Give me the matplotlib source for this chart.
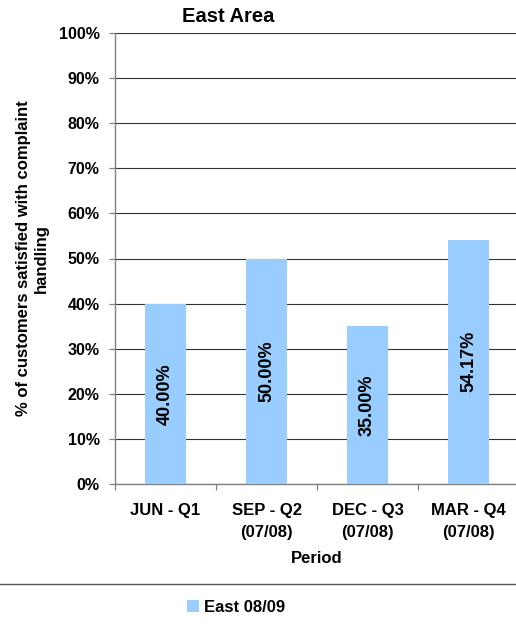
import matplotlib
matplotlib.use("Agg")
import matplotlib.pyplot as plt
from matplotlib.ticker import PercentFormatter, FixedLocator
from matplotlib.patches import Patch
from matplotlib.lines import Line2D

plt.rcParams['font.family'] = ['Liberation Sans', 'DejaVu Sans']
plt.rcParams['font.weight'] = 'bold'

categories = ["JUN - Q1", "SEP - Q2\n(07/08)", "DEC - Q3\n(07/08)", "MAR - Q4\n(07/08)"]
values = [40.00, 50.00, 35.00, 54.17]
series_name = "East 08/09"
yticks = [0, 10, 20, 30, 40, 50, 60, 70, 80, 90, 100]

bar_color = "#99CCFF"

W, H = 516, 627
fig = plt.figure(figsize=(W / 100, H / 100), dpi=100)
ax = fig.add_axes([115 / W, 1 - 484 / H, 404 / W, 451 / H])

x = list(range(len(categories)))
bars = ax.bar(x, values, width=0.415, color=bar_color, zorder=3)

for rect, v in zip(bars, values):
    ax.text(rect.get_x() + rect.get_width() / 2, v / 2, f"{v:.2f}%",
            rotation=90, ha="center", va="center", fontsize=13,
            fontweight="bold", color="black", zorder=4)

ax.set_xlim(-0.5, len(categories) - 0.5)
ax.set_ylim(0, 100)
ax.set_yticks(yticks)
ax.yaxis.set_major_formatter(PercentFormatter(decimals=0))
ax.set_xticks(x)
ax.set_xticklabels(categories, fontsize=12, fontweight="bold", linespacing=1.55)
ax.xaxis.set_minor_locator(FixedLocator([i - 0.5 for i in range(len(categories) + 1)]))
ax.tick_params(axis="x", which="major", length=0, pad=14)
ax.tick_params(axis="x", which="minor", length=4, width=0.9, color="#808080", direction="out")
ax.tick_params(axis="y", length=4, width=0.9, color="#808080", labelsize=11.5, pad=7)
for lbl in ax.get_yticklabels():
    lbl.set_fontweight("bold")

ax.grid(axis="y", color="#333333", linewidth=0.8, zorder=1)
ax.set_axisbelow(True)
for s in ("top", "right"):
    ax.spines[s].set_visible(False)
ax.spines["left"].set_color("#808080")
ax.spines["bottom"].set_color("#808080")
ax.spines["left"].set_linewidth(1.0)
ax.spines["bottom"].set_linewidth(1.0)

ax.set_xlabel("Period", fontsize=12, fontweight="bold", labelpad=8)
ax.set_ylabel("% of customers satisfied with complaint\nhandling", fontsize=12,
              fontweight="bold", labelpad=7, linespacing=1.3)

fig.text(228 / W, 1 - 17 / H, "East Area", ha="center", va="center",
         fontsize=14.5, fontweight="bold")

# separator above the legend
fig.add_artist(Line2D([0, 1], [1 - 584 / H, 1 - 584 / H], transform=fig.transFigure,
                      color="#555555", linewidth=1.0))

fig.legend(handles=[Patch(facecolor=bar_color, edgecolor="none", label=series_name)],
           loc="center", bbox_to_anchor=(236 / W, 1 - 607 / H), frameon=False,
           handlelength=0.75, handleheight=0.75, handletextpad=0.3,
           prop={"weight": "bold", "size": 12})

fig.savefig("out.png", dpi=100)
